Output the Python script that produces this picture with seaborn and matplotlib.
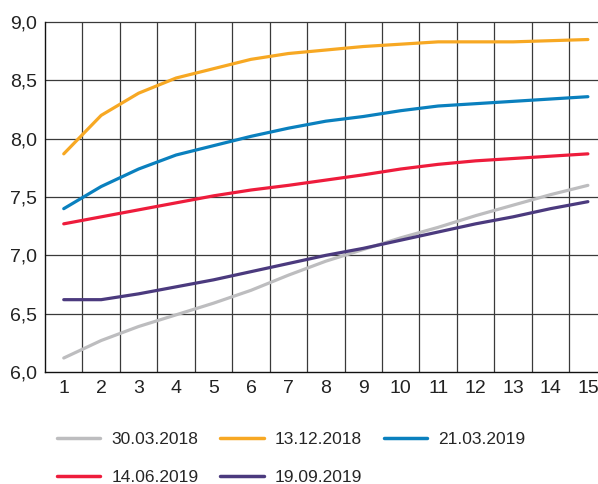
import matplotlib
matplotlib.use('Agg')
import matplotlib.pyplot as plt
import pandas as pd
import seaborn as sns

# Terms (years) on x axis
terms = list(range(1, 16))

curve_30_03_2018 = [6.12, 6.27, 6.39, 6.49, 6.59, 6.70, 6.83, 6.95, 7.05, 7.15, 7.24, 7.34, 7.43, 7.52, 7.60]
curve_13_12_2018 = [7.87, 8.20, 8.39, 8.52, 8.60, 8.68, 8.73, 8.76, 8.79, 8.81, 8.83, 8.83, 8.83, 8.84, 8.85]
curve_21_03_2019 = [7.40, 7.59, 7.74, 7.86, 7.94, 8.02, 8.09, 8.15, 8.19, 8.24, 8.28, 8.30, 8.32, 8.34, 8.36]
curve_14_06_2019 = [7.27, 7.33, 7.39, 7.45, 7.51, 7.56, 7.60, 7.645, 7.69, 7.74, 7.78, 7.81, 7.83, 7.85, 7.87]
curve_19_09_2019 = [6.62, 6.62, 6.67, 6.73, 6.79, 6.86, 6.93, 7.00, 7.06, 7.13, 7.20, 7.27, 7.33, 7.40, 7.46]

dates = ['30.03.2018', '13.12.2018', '21.03.2019', '14.06.2019', '19.09.2019']
colors = ['#BDBDBF', '#F7A823', '#0A80BE', '#EE1C3C', '#4B3A7E']

y_ticks = [6.0, 6.5, 7.0, 7.5, 8.0, 8.5, 9.0]
y_tick_labels = ['6,0', '6,5', '7,0', '7,5', '8,0', '8,5', '9,0']

series = [curve_30_03_2018, curve_13_12_2018, curve_21_03_2019, curve_14_06_2019, curve_19_09_2019]
df = pd.concat(
    [pd.DataFrame({'term': terms, 'yield': vals, 'date': d}) for d, vals in zip(dates, series)],
    ignore_index=True,
)

sns.set_theme(style='white')
plt.rcParams['font.family'] = ['Liberation Sans', 'DejaVu Sans']

fig = plt.figure(figsize=(5.98, 4.84), dpi=100)
ax = fig.add_axes([0.0753, 0.2314, 0.9247, 0.7231])

sns.lineplot(data=df, x='term', y='yield', hue='date', hue_order=dates,
             palette=dict(zip(dates, colors)), linewidth=2.3, ax=ax, legend=False,
             zorder=3)

ax.set_xlim(0.5, 15.27)
ax.set_ylim(6.0, 9.0)

# grid: vertical lines between terms, horizontal at every 0.5
for gx in [t + 0.5 for t in terms[:-1]]:
    ax.axvline(gx, color='#3a3a3a', linewidth=0.9, zorder=1)
for gy in y_ticks[1:]:
    ax.axhline(gy, color='#3a3a3a', linewidth=0.9, zorder=1, clip_on=False)

ax.set_xticks(terms)
ax.set_xticklabels([str(t) for t in terms])
ax.set_yticks(y_ticks)
ax.set_yticklabels(y_tick_labels)
ax.tick_params(axis='both', length=0, labelsize=14, colors='#222222', pad=6)
ax.set_xlabel('')
ax.set_ylabel('')

for side in ['top', 'right']:
    ax.spines[side].set_visible(False)
for side in ['left', 'bottom']:
    ax.spines[side].set_color('#111111')
    ax.spines[side].set_linewidth(1.0)

# legend filled row by row (3 columns, 2 rows)
order = [0, 3, 1, 4, 2]
handles = [plt.Line2D([], [], color=colors[i], linewidth=2.5) for i in order]
labels = [dates[i] for i in order]
fig.legend(handles, labels, ncol=3, loc='upper left', bbox_to_anchor=(0.0953, 0.108),
           frameon=False, fontsize=12.5, handlelength=2.5, handletextpad=0.63,
           columnspacing=1.25, labelspacing=1.3, borderaxespad=0, borderpad=0)

fig.savefig('out.png', dpi=100)
plt.close(fig)
